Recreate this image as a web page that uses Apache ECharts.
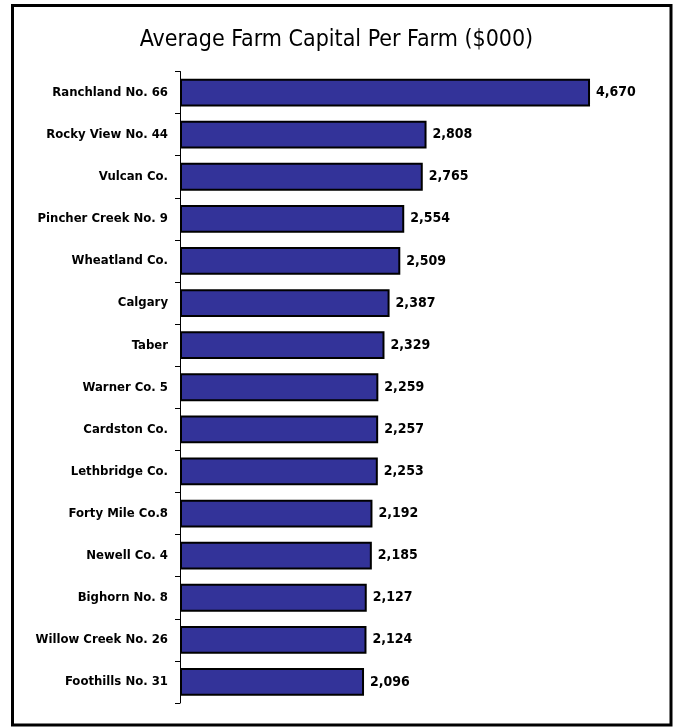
<!DOCTYPE html>
<html>
<head>
<meta charset="utf-8">
<script src="https://cdn.jsdelivr.net/npm/echarts@6/dist/echarts.min.js"></script>
<style>
html, body { margin: 0; padding: 0; background: #fff; }
#main { width: 673px; height: 728px; }
</style>
</head>
<body>
<div id="main"></div>
<script>
//////////// data //////////////////
var categories = ['Ranchland No. 66', 'Rocky View No. 44', 'Vulcan Co.', 'Pincher Creek No. 9',
    'Wheatland Co.', 'Calgary', 'Taber', 'Warner Co. 5', 'Cardston Co.', 'Lethbridge Co.',
    'Forty Mile Co.8', 'Newell Co. 4', 'Bighorn No. 8', 'Willow Creek No. 26', 'Foothills No. 31'];
var capital = [4670, 2808, 2765, 2554, 2509, 2387, 2329, 2259, 2257, 2253, 2192, 2185, 2127, 2124, 2096];

var fontName = "'Liberation Sans Narrow', 'DejaVu Sans Condensed', sans-serif";

//////////// chart //////////////////
var chart_dom = document.getElementById('main');
var chart = echarts.init(chart_dom);
var chart_option = {
    backgroundColor: '#FFFFFF',
    animation: false,
    title: {
        left: 'center',
        top: 24,
        text: 'Average Farm Capital Per Farm ($000)',
        textStyle: {color: '#000', fontSize: 23, fontWeight: 'normal', fontFamily: fontName}
    },
    graphic: [{
        type: 'rect',
        shape: {x: 12.5, y: 5.5, width: 658.5, height: 719.5},
        style: {fill: 'none', stroke: '#000', lineWidth: 3}
    }],
    grid: {
        left: 180,
        right: 54,
        top: 71.5,
        bottom: 25
    },
    xAxis: {
        type: 'value',
        min: 0,
        max: 5000,
        show: false
    },
    yAxis: {
        type: 'category',
        inverse: true,
        data: categories,
        axisLine: {show: true, lineStyle: {color: '#000', width: 1}},
        axisTick: {show: true, length: 5, lineStyle: {color: '#000', width: 1}},
        axisLabel: {
            color: '#000',
            fontSize: 13,
            fontWeight: 'bold',
            fontFamily: fontName,
            margin: 12
        }
    },
    series: [{
        name: 'Capital',
        type: 'bar',
        data: capital,
        barCategoryGap: '34%',
        itemStyle: {color: '#333399', borderColor: '#000', borderWidth: 2},
        label: {
            show: true,
            position: 'right',
            distance: 6,
            color: '#000',
            fontSize: 14,
            fontWeight: 'bold',
            fontFamily: fontName,
            formatter: function (p) { return p.value.toLocaleString('en-US'); }
        }
    }]
};
chart.setOption(chart_option);
</script>
</body>
</html>
